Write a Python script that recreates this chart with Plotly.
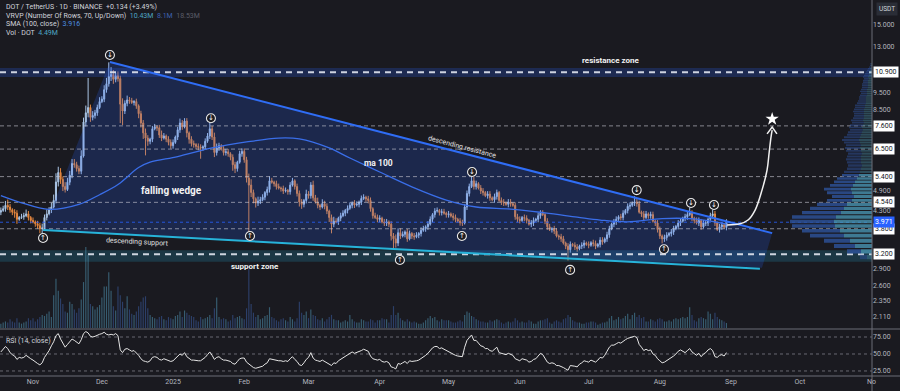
import math
import pandas as pd
import plotly.graph_objects as go

# ---------------- data ----------------
start_date = "2024-10-18"
first_open = 4.25

closes = [
    # Oct 18-31 2024
    4.30, 4.35, 4.45, 4.40, 4.32, 4.25, 4.22, 4.05, 4.10, 4.12, 4.15, 4.20, 4.10, 4.02,
    # Nov
    3.98, 3.93, 3.88, 3.80, 3.82, 4.10, 4.20, 4.31, 4.40, 4.60,
    5.21, 5.55, 5.30, 5.05, 4.95, 5.20, 5.45, 5.90, 5.85, 5.70,
    5.60, 6.20, 7.80, 8.30, 8.60, 8.05, 8.15, 8.30, 8.60, 8.95,
    # Dec
    9.10, 9.70, 10.10, 10.60, 10.75, 10.40, 10.65, 10.45, 8.80, 8.40,
    8.85, 9.05, 9.00, 8.90, 8.95, 8.70, 8.25, 7.75, 7.25, 7.00,
    6.85, 6.95, 7.45, 7.55, 7.50, 7.15, 7.00, 7.10, 6.95, 6.80, 6.65,
    # Jan 2025
    6.80, 7.05, 7.40, 7.75, 7.55, 7.85, 7.25, 6.95, 6.75, 6.70,
    6.62, 6.58, 6.55, 6.60, 6.85, 7.10, 7.45, 7.05, 6.35, 6.55,
    6.65, 6.50, 6.35, 6.38, 6.30, 6.15, 5.85, 5.70, 5.95, 6.30, 6.40,
    # Feb
    6.05, 5.35, 5.10, 4.85, 4.65, 4.52, 4.58, 4.62, 4.70, 4.85,
    4.95, 5.25, 5.20, 5.15, 5.05, 5.00, 4.98, 4.90, 4.92, 4.88,
    5.10, 5.25, 5.05, 4.82, 4.55, 4.48, 4.60, 4.80,
    # Mar
    4.75, 5.10, 4.68, 4.55, 4.45, 4.40, 4.50, 4.42, 4.28, 4.10,
    3.92, 4.00, 3.98, 4.08, 4.15, 4.22, 4.30, 4.36, 4.45, 4.52,
    4.46, 4.48, 4.55, 4.66, 4.70, 4.65, 4.60, 4.35, 4.15, 4.10, 4.05,
    # Apr
    4.08, 3.98, 3.95, 3.98, 3.92, 3.62, 3.55, 3.45, 3.70, 3.62,
    3.66, 3.72, 3.55, 3.68, 3.62, 3.60, 3.64, 3.68, 3.76, 3.80,
    3.85, 3.92, 4.05, 4.18, 4.28, 4.30, 4.24, 4.26, 4.22, 4.18,
    # May
    4.20, 4.14, 4.10, 4.05, 4.00, 3.96, 3.95, 4.40, 4.82, 5.05,
    5.25, 5.05, 5.15, 5.00, 4.90, 4.85, 4.75, 4.80, 4.68, 4.62,
    4.72, 4.85, 4.60, 4.55, 4.52, 4.48, 4.55, 4.50, 4.45, 4.12, 4.05,
    # Jun
    4.02, 4.10, 4.08, 4.02, 3.92, 3.95, 4.02, 4.05, 4.15, 4.22,
    4.18, 4.00, 3.85, 3.78, 3.80, 3.74, 3.62, 3.60, 3.55, 3.45,
    3.38, 3.30, 3.42, 3.40, 3.36, 3.32, 3.38, 3.40, 3.45, 3.42,
    # Jul
    3.40, 3.46, 3.44, 3.38, 3.42, 3.52, 3.48, 3.55, 3.65, 3.80,
    3.92, 3.98, 4.05, 4.12, 4.10, 4.22, 4.30, 4.42, 4.45, 4.52,
    4.55, 4.50, 4.25, 4.20, 4.10, 4.20, 4.15, 4.18, 4.00, 3.95, 3.78,
    # Aug
    3.62, 3.55, 3.58, 3.64, 3.68, 3.72, 3.80, 3.86, 3.95, 4.00,
    4.08, 4.12, 4.18, 4.22, 4.08, 4.02, 3.95, 4.02, 3.85, 3.95,
    3.95, 4.05, 4.15, 4.20, 3.95, 3.78, 3.85, 3.90, 3.837, 3.971,
]

# upper / lower wick length in % of the body edge
up_wick_pct = [
    2, 2, 3, 4, 2, 1, 2, 2, 1, 2, 2, 3, 2, 1,
    2, 1, 2, 2, 3, 2, 3, 2, 3, 4, 6, 4, 3, 2, 3, 3, 3, 3, 3, 2, 2, 4, 3, 5, 22, 2, 3, 2, 2, 3,
    2, 3, 4, 10, 5, 3, 2, 3, 2, 4, 2, 3, 2, 2, 1, 2, 1, 2, 2, 3, 2, 1, 2, 2, 1, 2, 3, 2, 1, 2, 2,
    2, 1, 2, 3, 2, 2, 2, 1, 2, 2, 1, 2, 2, 1, 2, 2, 7, 2, 3, 3, 2, 1, 2, 2, 2, 1, 2, 2, 1, 2, 2,
    2, 2, 3, 4, 2, 1, 3, 2, 2, 1, 2, 3, 2, 1, 2, 2, 1, 2, 2, 1, 2, 2, 1, 2, 2, 2, 1, 3,
    2, 2, 3, 2, 3, 1, 3, 2, 2, 1, 2, 3, 2, 1, 2, 2, 1, 2, 2, 1, 2, 2, 1, 2, 2, 1, 2, 2, 1, 2, 2,
    2, 1, 2, 2, 1, 2, 2, 3, 3, 3, 2, 1, 2, 2, 1, 2, 2, 1, 2, 2, 1, 2, 2, 1, 2, 2, 1, 2, 2, 1,
    2, 1, 2, 2, 1, 2, 2, 2, 2, 2, 3, 3, 2, 1, 2, 2, 1, 2, 2, 1, 2, 2, 1, 2, 2, 1, 2, 2, 1, 2, 2,
    2, 1, 2, 2, 1, 2, 2, 1, 2, 2, 2, 1, 2, 2, 1, 2, 2, 1, 2, 2, 1, 2, 2, 1, 2, 2, 1, 2, 2, 1,
    2, 1, 2, 2, 1, 2, 2, 1, 2, 2, 1, 2, 2, 1, 2, 2, 1, 2, 2, 1, 4, 2, 2, 1, 2, 2, 1, 2, 2, 1, 2,
    2, 1, 2, 2, 1, 2, 2, 1, 2, 2, 1, 2, 2, 4, 2, 1, 2, 2, 1, 2, 2, 1, 2, 3, 2, 1, 2, 2, 1, 2,
]
dn_wick_pct = [
    2, 1, 2, 2, 2, 2, 3, 3, 1, 1, 2, 1, 2, 2,
    1, 2, 2, 3, 3, 1, 2, 1, 2, 1, 2, 3, 3, 3, 2, 1, 2, 2, 2, 2, 2, 2, 1, 3, 3, 3, 2, 2, 2, 1,
    1, 2, 2, 2, 3, 3, 2, 2, 12, 9, 2, 2, 2, 1, 2, 2, 3, 3, 4, 11, 3, 2, 2, 1, 2, 2, 2, 1, 2, 2, 2,
    2, 1, 2, 2, 2, 1, 3, 3, 2, 2, 2, 2, 7, 2, 2, 1, 2, 2, 3, 2, 2, 1, 2, 2, 2, 2, 4, 3, 2, 1, 2,
    2, 3, 27, 3, 3, 3, 2, 2, 1, 2, 2, 2, 1, 2, 2, 1, 2, 2, 1, 2, 2, 1, 2, 2, 3, 3, 2, 2,
    2, 2, 2, 1, 2, 2, 1, 2, 2, 3, 6, 2, 1, 2, 2, 1, 2, 2, 1, 2, 2, 1, 2, 2, 1, 2, 2, 2, 2, 1, 2,
    2, 1, 2, 2, 2, 3, 7, 3, 2, 2, 1, 2, 2, 1, 2, 2, 1, 2, 2, 1, 2, 2, 1, 2, 2, 1, 2, 2, 1, 2,
    2, 1, 2, 2, 1, 2, 2, 1, 2, 2, 1, 2, 2, 1, 2, 2, 1, 2, 2, 1, 2, 2, 1, 2, 2, 1, 2, 2, 1, 2, 2,
    2, 1, 2, 2, 1, 2, 2, 1, 2, 2, 1, 2, 2, 1, 2, 2, 1, 2, 2, 1, 2, 7, 2, 1, 2, 2, 1, 2, 2, 1,
    2, 1, 2, 2, 1, 2, 2, 1, 2, 2, 1, 2, 2, 1, 2, 2, 1, 2, 2, 1, 2, 2, 1, 2, 2, 1, 2, 2, 1, 2, 2,
    2, 3, 2, 2, 1, 2, 2, 1, 2, 2, 1, 2, 2, 1, 2, 2, 1, 2, 2, 1, 2, 2, 1, 2, 2, 1, 2, 2, 1, 2,
]

volume_m = [
    4, 5, 6, 5, 8, 6, 5, 9, 5, 4, 5, 6, 9, 7,
    9, 6, 8, 10, 12, 11, 13, 15, 10, 30, 45, 34, 27, 22, 15, 14, 24, 22, 17, 14,
    18, 26, 42, 74, 67, 22, 20, 17, 19, 21,
    28, 38, 38, 51, 34, 20, 16, 38, 30, 24, 18, 29, 17, 13, 12, 15, 20, 24, 28, 29,
    18, 12, 10, 9, 8, 10, 11, 8, 7, 10, 9,
    8, 11, 12, 15, 10, 16, 14, 12, 11, 10, 7, 6, 10, 8, 9, 10, 12, 9, 18, 28,
    10, 8, 9, 8, 6, 7, 12, 9, 10, 11, 9,
    8, 18, 54, 22, 14, 10, 12, 8, 9, 11, 12, 19, 10, 9, 7, 6, 8, 9, 7, 6,
    10, 8, 6, 9, 24, 14, 12, 15,
    9, 17, 12, 11, 8, 7, 9, 6, 8, 10, 12, 8, 7, 7, 5, 6, 7, 6, 12, 8,
    6, 5, 5, 8, 7, 6, 6, 8, 7, 5, 7,
    7, 9, 8, 8, 5, 12, 20, 12, 14, 9, 7, 6, 8, 6, 5, 6, 5, 4, 4, 5,
    7, 9, 11, 9, 10, 7, 6, 8, 7, 7,
    7, 6, 5, 5, 6, 7, 6, 12, 15, 14, 11, 10, 8, 7, 6, 6, 5, 5, 7, 6,
    7, 8, 7, 5, 4, 5, 6, 5, 6, 9, 7,
    5, 6, 5, 5, 7, 6, 4, 4, 6, 7, 7, 8, 9, 5, 4, 6, 7, 6, 5, 8,
    9, 12, 10, 7, 6, 5, 5, 4, 4, 5,
    5, 6, 6, 5, 3, 4, 5, 5, 6, 9, 11, 7, 8, 10, 8, 9, 11, 13, 8, 12,
    14, 10, 12, 9, 10, 6, 6, 8, 7, 6, 8,
    9, 8, 6, 6, 7, 6, 8, 9, 8, 9, 10, 9, 10, 19, 12, 7, 6, 9, 10, 9,
    8, 15, 13, 8, 14, 10, 8, 7, 6, 4.49,
]

rsi_vals = [
    53, 57, 61, 58, 52, 49, 47, 42, 45, 44, 45, 48, 45, 43,
    41, 38, 36, 34, 37, 45, 50, 55, 62, 68, 77, 80, 72, 65, 60, 64, 68, 72, 70, 67,
    65, 71, 80, 83, 81, 76, 75, 76, 78, 79,
    80, 82, 79, 78, 79, 78, 80, 77, 56, 52, 57, 58, 56, 54, 55, 52, 48, 43, 40, 39,
    38, 40, 45, 46, 45, 42, 41, 43, 42, 40, 39,
    40, 43, 46, 50, 48, 52, 46, 43, 41, 41, 40, 40, 40, 42, 45, 49, 53, 48, 42, 45,
    46, 43, 41, 41, 40, 39, 36, 35, 39, 43, 44,
    44, 38, 35, 32, 30, 29, 30, 31, 32, 35, 37, 43, 42, 42, 41, 40, 40, 39, 40, 39,
    43, 46, 42, 39, 34, 33, 37, 42,
    45, 52, 44, 41, 40, 39, 41, 39, 37, 35, 33, 37, 36, 40, 42, 44, 46, 48, 51, 53,
    51, 52, 53, 55, 57, 55, 54, 47, 43, 42, 41,
    42, 39, 38, 39, 37, 31, 30, 28, 36, 35, 37, 39, 36, 40, 39, 39, 40, 41, 43, 45,
    48, 51, 55, 59, 61, 61, 58, 59, 57, 55,
    53, 51, 50, 48, 47, 46, 46, 60, 70, 74, 78, 70, 70, 66, 62, 61, 58, 58, 55, 54,
    57, 60, 52, 51, 50, 49, 51, 50, 48, 43, 41,
    40, 43, 42, 41, 38, 39, 42, 43, 47, 51, 49, 43, 38, 36, 37, 36, 33, 33, 32, 30,
    28, 26, 33, 33, 32, 31, 35, 37, 40, 39,
    38, 41, 40, 38, 41, 45, 44, 48, 54, 60, 63, 63, 65, 67, 66, 69, 71, 73, 74, 75,
    76, 74, 64, 60, 55, 57, 55, 56, 50, 48, 43,
    40, 37, 38, 40, 42, 44, 47, 50, 54, 56, 54, 52, 55, 58, 53, 50, 48, 51, 46, 50,
    52, 56, 58, 55, 46, 45, 48, 49, 47, 52,
]

sma_dates = ["2024-10-18", "2024-10-26", "2024-11-08", "2024-11-21", "2024-11-30",
             "2024-12-08", "2024-12-17", "2024-12-22", "2025-01-03", "2025-01-18",
             "2025-02-02", "2025-02-16", "2025-02-25", "2025-03-10", "2025-03-19",
             "2025-04-01", "2025-04-15", "2025-04-30", "2025-05-13", "2025-05-28",
             "2025-06-12", "2025-06-26", "2025-07-06", "2025-07-18", "2025-08-02",
             "2025-08-16", "2025-08-30"]
sma_vals = [4.75, 4.55, 4.33, 4.48, 4.78, 5.12, 5.74, 5.95, 6.18, 6.55,
            6.82, 7.00, 6.96, 6.55, 6.12, 5.57, 5.04, 4.61, 4.40, 4.34,
            4.23, 4.11, 4.03, 3.98, 4.07, 4.06, 3.92]

# chart drawings (date, price)
wedge_dates = ["2024-11-05 09:00", "2024-12-04 12:00", "2025-09-18 22:00", "2025-09-14 12:00", "2024-11-05 09:00"]
wedge_prices = [3.77, 11.69, 3.69, 2.92, 3.77]
res_line_dates = ["2024-12-04 12:00", "2025-09-18 22:00"]
res_line_prices = [11.69, 3.69]
sup_line_dates = ["2024-11-05 09:00", "2025-09-13 14:00"]
sup_line_prices = [3.77, 2.90]
curve_dates = ["2025-08-30 07:00", "2025-09-04 22:00", "2025-09-08 10:00", "2025-09-11 12:00",
               "2025-09-14 12:00", "2025-09-16 17:00", "2025-09-17 14:00", "2025-09-18 10:00",
               "2025-09-18 22:00"]
curve_prices = [3.90, 3.93, 4.03, 4.31, 4.93, 5.65, 6.33, 7.05, 7.39]
chevron_dates = ["2025-09-16 17:00", "2025-09-18 22:00", "2025-09-21 00:00"]
chevron_prices = [7.20, 7.54, 7.20]
star_date = ["2025-09-18 22:00"]
star_price = [7.96]

down_icon_dates = ["2024-12-04 12:00", "2025-01-17 12:00", "2025-05-11 05:00",
                   "2025-07-21 22:00", "2025-08-14 14:00", "2025-08-24 14:00"]
down_icon_prices = [12.25, 8.0, 5.57, 4.93, 4.52, 4.46]
up_icon_dates = ["2024-11-05 09:00", "2025-02-03 12:00", "2025-04-09 19:00",
                 "2025-05-06 19:00", "2025-06-22 22:00", "2025-08-02 19:00"]
up_icon_prices = [3.57, 3.62, 3.08, 3.62, 2.88, 3.31]

level_lines = [7.6, 6.5, 5.4, 4.54, 3.8]
resistance_zone = [10.57, 11.23, 10.9]
support_zone = [3.04, 3.29, 3.2]
last_price = 3.971

axis_plain_vals = [15, 13, 9.5, 8.5, 4.9, 4.3, 2.9, 2.6, 2.35, 2.11]
axis_plain_text = ["15.000", "13.000", "9.500", "8.500", "4.900", "4.300", "2.900", "2.600", "2.350", "2.110"]
axis_box_vals = [10.9, 7.6, 6.5, 5.4, 4.54, 3.8, 3.2]
axis_box_text = ["10.900", "7.600", "6.500", "5.400", "4.540", "3.800", "3.200"]

month_ticks = ["2024-11-01", "2024-12-01", "2025-01-01", "2025-02-01", "2025-03-01", "2025-04-01",
               "2025-05-01", "2025-06-01", "2025-07-01", "2025-08-01", "2025-09-01", "2025-10-01"]
month_labels = ["Nov", "Dec", "2025", "Feb", "Mar", "Apr", "May", "Jun", "Jul", "Aug", "Sep", "Oct"]

# volume profile (70 rows)
vp_low = 3.08
vp_step = 0.1217
vp_up = [5, 11, 17, 22, 28, 32, 37, 38, 36, 31, 28, 25, 20, 18, 20, 21, 19, 17, 15, 13,
         12, 11, 10, 11, 11, 11, 10, 11, 12, 11, 12, 13, 12, 11, 10, 9, 10, 9, 8, 9,
         8, 8, 8, 8, 8, 7, 7, 6, 6, 6, 6, 5, 5, 5, 5, 4, 4, 4, 4, 4,
         3, 4, 3, 3, 3, 2, 2, 1, 1, 1]
vp_down = [7, 14, 21, 26, 34, 38, 43, 44, 44, 39, 34, 30, 25, 22, 25, 27, 23, 21, 20, 17,
           16, 14, 14, 14, 15, 14, 14, 15, 15, 15, 16, 17, 16, 14, 14, 13, 13, 13, 12, 12,
           11, 10, 10, 11, 10, 10, 10, 9, 8, 7, 7, 7, 6, 7, 6, 6, 6, 6, 5, 5,
           5, 5, 5, 4, 3, 3, 2, 2, 1, 1]

# ---------------- styling ----------------
BG = "#1a1a20"
AXC = "#b2b5be"
UP = "#a9c4e4"
DN = "#e5873f"
FONT = "Roboto"
L10 = math.log10
XR = ["2024-10-17 15:00", "2025-11-01 09:36"]

n = min(len(closes), len(up_wick_pct), len(dn_wick_pct), len(volume_m), len(rsi_vals))
closes = closes[:n]
dates = pd.date_range(start_date, periods=n, freq="D")
opens = [first_open] + closes[:-1]
highs = [max(o, c) * (1 + u / 100) for o, c, u in zip(opens, closes, up_wick_pct)]
lows = [min(o, c) * (1 - d / 100) for o, c, d in zip(opens, closes, dn_wick_pct)]

fig = go.Figure()

def hline(price, color, width, dash, axis_y="y"):
    fig.add_trace(go.Scatter(x=XR, y=[price, price], mode="lines",
                             line=dict(color=color, width=width, dash=dash),
                             hoverinfo="skip", xaxis="x", yaxis=axis_y))

def hband(lo, hi, color):
    fig.add_trace(go.Scatter(x=[XR[0], XR[1], XR[1], XR[0], XR[0]], y=[lo, lo, hi, hi, lo],
                             mode="lines", fill="toself", fillcolor=color, line=dict(width=0),
                             hoverinfo="skip", xaxis="x", yaxis="y"))

# zone bands
hband(resistance_zone[0], resistance_zone[1], "rgba(41,98,255,0.22)")
hband(support_zone[0], support_zone[1], "rgba(38,150,190,0.24)")

# wedge fill
fig.add_trace(go.Scatter(x=wedge_dates, y=wedge_prices, mode="lines", fill="toself",
                         fillcolor="rgba(41,98,255,0.20)", line=dict(width=0),
                         hoverinfo="skip", xaxis="x", yaxis="y"))
# level lines
for v in level_lines:
    hline(v, "rgba(205,205,215,0.6)", 1, "4px,3px")
hline(last_price, "rgba(41,98,255,0.8)", 1, "dot")

# SMA 100
fig.add_trace(go.Scatter(x=sma_dates, y=sma_vals, mode="lines", line=dict(color="#3a6ee8", width=1.3, shape="spline"),
                         hoverinfo="skip", xaxis="x", yaxis="y"))
# candles
fig.add_trace(go.Candlestick(x=dates, open=opens, high=highs, low=lows, close=closes,
                             increasing=dict(line=dict(color=UP, width=1), fillcolor=UP),
                             decreasing=dict(line=dict(color=DN, width=1), fillcolor=DN),
                             whiskerwidth=0, hoverinfo="skip", xaxis="x", yaxis="y"))
# zone center lines
hline(resistance_zone[2], "rgba(225,230,240,0.9)", 2, "6px,5px")
hline(support_zone[2], "rgba(225,230,240,0.9)", 2, "6px,5px")

# wedge lines
fig.add_trace(go.Scatter(x=res_line_dates, y=res_line_prices, mode="lines",
                         line=dict(color="#2f6df5", width=2), hoverinfo="skip", xaxis="x", yaxis="y"))
fig.add_trace(go.Scatter(x=sup_line_dates, y=sup_line_prices, mode="lines",
                         line=dict(color="#27b3d9", width=2), hoverinfo="skip", xaxis="x", yaxis="y"))
# projection arrow
fig.add_trace(go.Scatter(x=curve_dates, y=curve_prices, mode="lines",
                         line=dict(color="#f0f0f0", width=1.5, shape="spline"), hoverinfo="skip", xaxis="x", yaxis="y"))
fig.add_trace(go.Scatter(x=chevron_dates, y=chevron_prices, mode="lines",
                         line=dict(color="#f0f0f0", width=1.5), hoverinfo="skip", xaxis="x", yaxis="y"))
fig.add_trace(go.Scatter(x=star_date, y=star_price, mode="markers",
                         marker=dict(symbol="star", size=10, color="#ffffff", line=dict(width=0)),
                         hoverinfo="skip", xaxis="x", yaxis="y"))
# swing icons
for dts, prs, glyph in [(down_icon_dates, down_icon_prices, "↓"), (up_icon_dates, up_icon_prices, "↑")]:
    fig.add_trace(go.Scatter(x=dts, y=prs, mode="markers+text", text=[glyph] * len(dts),
                             textposition="middle center",
                             textfont=dict(size=7, color="#ffffff", family="DejaVu Sans"),
                             marker=dict(symbol="circle", size=9, color="#1c1c22",
                                         line=dict(color="#e8e8e8", width=1.1)),
                             hoverinfo="skip", xaxis="x", yaxis="y"))
# volume
vol_colors = ["rgba(80,150,180,0.55)" if c >= o else "rgba(60,95,165,0.55)" for o, c in zip(opens, closes)]
fig.add_trace(go.Bar(x=dates, y=volume_m[:n], marker=dict(color=vol_colors, line=dict(width=0)),
                     width=86400000 * 0.5, hoverinfo="skip", xaxis="x", yaxis="y3"))

# volume profile rectangles
def rects(starts, lengths, rows):
    xs, ys = [], []
    for k in rows:
        y0 = vp_low + k * vp_step + 0.12 * vp_step
        y1 = vp_low + (k + 1) * vp_step - 0.12 * vp_step
        x0 = starts[k]
        x1 = starts[k] + lengths[k]
        xs += [x0, x1, x1, x0, x0, None]
        ys += [y0, y0, y1, y1, y0, None]
    return xs, ys

nrows = len(vp_up)
va_rows = [k for k in range(nrows) if 3.2 <= vp_low + (k + 0.5) * vp_step <= 5.5]
other_rows = [k for k in range(nrows) if k not in va_rows]
zeros = [0] * nrows
for rows, cu, cd in [(va_rows, "rgba(75,155,185,0.75)", "rgba(45,82,155,0.8)"),
                     (other_rows, "rgba(75,155,185,0.38)", "rgba(45,82,155,0.5)")]:
    xs, ys = rects(zeros, vp_up, rows)
    fig.add_trace(go.Scatter(x=xs, y=ys, mode="lines", fill="toself", fillcolor=cu,
                             line=dict(width=0), hoverinfo="skip", xaxis="x3", yaxis="y"))
    xs, ys = rects(vp_up, vp_down, rows)
    fig.add_trace(go.Scatter(x=xs, y=ys, mode="lines", fill="toself", fillcolor=cd,
                             line=dict(width=0), hoverinfo="skip", xaxis="x3", yaxis="y"))

# RSI
for v in [25, 50, 75]:
    fig.add_trace(go.Scatter(x=XR, y=[v, v], mode="lines",
                             line=dict(color="rgba(170,170,180,0.55)", width=1, dash="3px,3px"),
                             hoverinfo="skip", xaxis="x2", yaxis="y2"))
fig.add_trace(go.Scatter(x=dates, y=rsi_vals[:n], mode="lines", line=dict(color="#e6e6e6", width=1),
                         hoverinfo="skip", xaxis="x2", yaxis="y2"))

# ---------------- frame shapes (paper coords only) ----------------
shapes = []
sep_y = 1 - 329 / 376
shapes.append(dict(type="line", xref="paper", yref="paper", x0=0, x1=900 / 872, y0=sep_y, y1=sep_y,
                   line=dict(color="#6a6d76", width=1)))
shapes.append(dict(type="line", xref="paper", yref="paper", x0=0, x1=900 / 872, y0=0, y1=0,
                   line=dict(color="#6a6d76", width=1)))
shapes.append(dict(type="line", xref="paper", yref="paper", x0=1, x1=1, y0=-15 / 376, y1=1,
                   line=dict(color="#6a6d76", width=1)))

# ---------------- annotations ----------------
ann = []
def py(px):
    return 1 - px / 376

legend_lines = [
    (7, "DOT / TetherUS · 1D · BINANCE  +0.134 (+3.49%)"),
    (16, "VRVP (Number Of Rows, 70, Up/Down)  <span style='color:#4ea6c4'>10.43M</span>  "
         "<span style='color:#3e62b0'>8.1M</span>  <span style='color:#5a5d68'>18.53M</span>"),
    (24.5, "SMA (100, close)  <span style='color:#4d8fe0'>3.916</span>"),
    (33, "Vol · DOT  <span style='color:#4ea6c4'>4.49M</span>"),
    (341, "RSI (14, close)"),
]
for ypx, txt in legend_lines:
    ann.append(dict(xref="paper", yref="paper", x=4 / 872, y=py(ypx), xanchor="left", yanchor="middle",
                    text=txt, showarrow=False, font=dict(size=7, color="#d1d4dc", family=FONT)))

chart_labels = [
    ("<b>resistance zone</b>", "2025-07-10 07:00", 11.77, 8, 0, "#f2f2f2"),
    ("<b>support zone</b>", "2025-02-05 17:00", 2.94, 8, 0, "#f2f2f2"),
    ("<b>falling wedge</b>", "2024-12-31 12:00", 4.93, 10, 0, "#f2f2f2"),
    ("<b>ma 100</b>", "2025-03-31 07:00", 5.92, 8.5, 0, "#f2f2f2"),
    ("descending resistance", "2025-05-06 19:00", 6.59, 7, 15, "#e0e0e0"),
    ("descending support", "2024-12-16 07:00", 3.48, 7, 3, "#e0e0e0"),
]
for txt, dt, pr, sz, ang, col in chart_labels:
    ann.append(dict(xref="x", yref="y", x=dt, y=L10(pr), text=txt, showarrow=False, textangle=ang,
                    font=dict(size=sz, color=col, family=FONT), xanchor="center", yanchor="middle"))

for v, t in zip(axis_box_vals, axis_box_text):
    ann.append(dict(xref="paper", yref="y", x=1, y=L10(v), xanchor="left", yanchor="middle", xshift=1,
                    text=t, showarrow=False, bgcolor="#ffffff", borderpad=1,
                    font=dict(size=7, color="#131722", family=FONT)))
ann.append(dict(xref="paper", yref="y", x=1, y=L10(last_price), xanchor="left", yanchor="middle", xshift=1,
                text="3.971", showarrow=False, bgcolor="#2962ff", borderpad=1,
                font=dict(size=7, color="#ffffff", family=FONT)))
ann.append(dict(xref="paper", yref="paper", x=1, y=py(9), xanchor="left", yanchor="middle", xshift=4,
                text="USDT", showarrow=False, bgcolor="#2a2d36", borderpad=2,
                font=dict(size=6.5, color="#d1d4dc", family=FONT)))
# clipped "Nov" label at the right end of the time axis
ann.append(dict(xref="paper", yref="paper", x=1, y=py(382), xanchor="right", yanchor="middle", xshift=6,
                text="No", showarrow=False, font=dict(size=7, color=AXC, family=FONT)))

fig.update_layout(
    width=900, height=391,
    margin=dict(l=0, r=28, t=0, b=15),
    paper_bgcolor=BG, plot_bgcolor=BG,
    showlegend=False,
    shapes=shapes, annotations=ann,
    xaxis=dict(domain=[0, 1], anchor="y", type="date", range=XR, showticklabels=False, showgrid=False,
               zeroline=False, showline=False, rangeslider=dict(visible=False), fixedrange=True),
    xaxis2=dict(domain=[0, 1], anchor="y2", type="date", range=XR, matches="x", tickmode="array",
                tickvals=month_ticks, ticktext=month_labels, showgrid=False, zeroline=False, ticks="",
                showline=False, tickfont=dict(size=7, color=AXC, family=FONT)),
    xaxis3=dict(overlaying="x", anchor="y", range=[872, 0], visible=False, fixedrange=True),
    yaxis=dict(domain=[48 / 376, 1], anchor="x", type="log", range=[L10(1.947), L10(17.75)], side="right",
               tickmode="array", tickvals=axis_plain_vals, ticktext=axis_plain_text, showgrid=False,
               zeroline=False, ticks="", showline=False, tickfont=dict(size=7, color=AXC, family=FONT)),
    yaxis2=dict(domain=[0, 46 / 376], anchor="x2", range=[17.6, 85.3], side="right", tickmode="array",
                tickvals=[25, 50, 75], ticktext=["25.00", "50.00", "75.00"], showgrid=False, zeroline=False,
                ticks="", showline=False, tickfont=dict(size=7, color=AXC, family=FONT)),
    yaxis3=dict(overlaying="y", anchor="x", range=[0, 300], visible=False),
    boxgap=0.35,
)

fig.write_html("out.html", config={"displayModeBar": False, "staticPlot": True},
               post_script="document.body.style.margin='0';document.body.style.padding='0';"
                           "document.body.style.overflow='hidden';document.body.style.background='#1a1a20';")
